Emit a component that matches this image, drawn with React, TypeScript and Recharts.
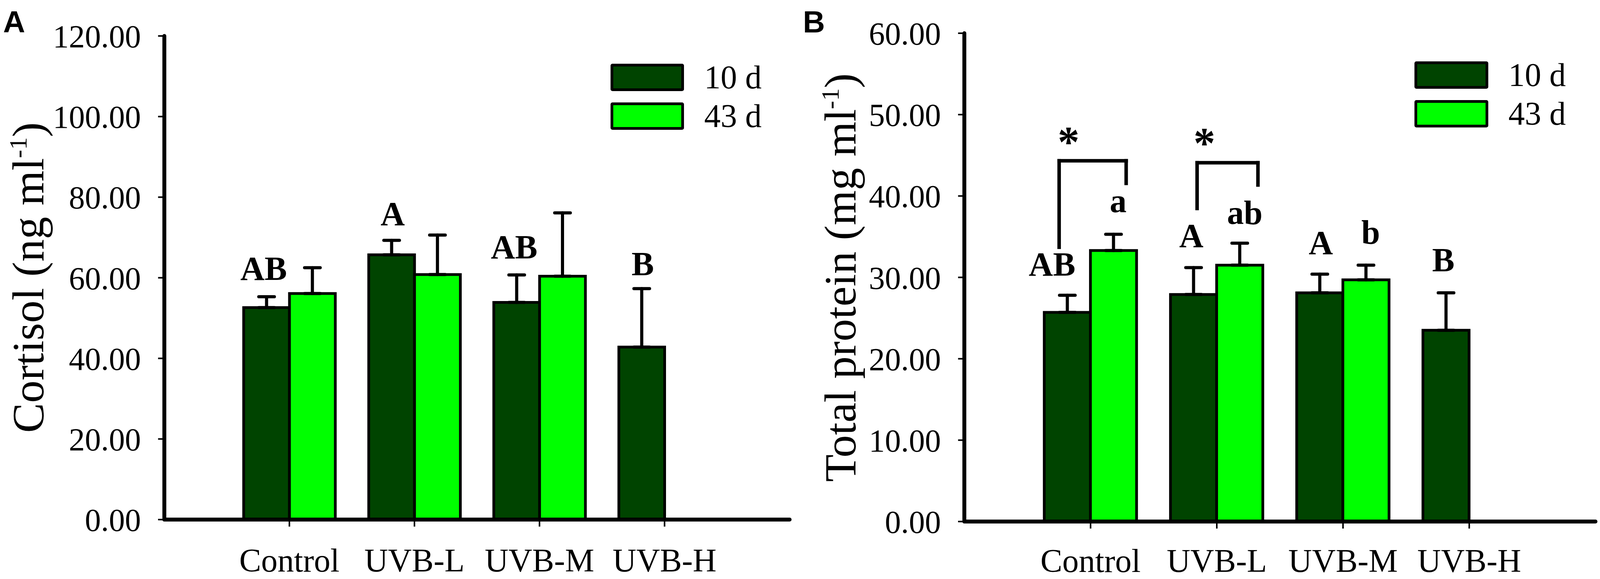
import React from 'react';
import { BarChart, Bar, XAxis, YAxis, ErrorBar, Legend, ReferenceLine, ReferenceDot } from 'recharts';

const SERIF = '"Liberation Serif", "Times New Roman", serif';
const SANS = '"Liberation Sans", Arial, sans-serif';
const DARK = '#004400';
const LIGHT = '#00ff00';

// the capture only shows ~4096px across, so horizontal layout is squeezed to fit
const PAGE_W = 4096;
const PAGE_H = 1481;
const SX = PAGE_W / 4401;
const sx = (v) => Math.round(v * SX * 10) / 10;

const groups = ['Control', 'UVB-L', 'UVB-M', 'UVB-H'];
const groupSlots = [1, 2, 3, 4];
const seriesNames = ['10 d', '43 d'];

// Panel A: cortisol (ng/ml), mean and upper error
const cortisol10 = [52.6, 65.7, 53.9, 42.8];
const cortisol10Err = [2.7, 3.6, 6.8, 14.5];
const cortisol43 = [56.1, 60.8, 60.4, null];
const cortisol43Err = [6.4, 9.8, 15.7, null];
const cortisolTicks = [0, 20, 40, 60, 80, 100, 120];

// Panel B: total protein (mg/ml)
const protein10 = [25.7, 27.9, 28.1, 23.5];
const protein10Err = [2.1, 3.3, 2.3, 4.6];
const protein43 = [33.3, 31.5, 29.7, null];
const protein43Err = [2.0, 2.7, 1.8, null];
const proteinTicks = [0, 10, 20, 30, 40, 50, 60];

// significance letters: slot on a 0..5 axis (groups sit at 1..4), baseline value
const cortisolLetters = [
  { slot: 0.794, y: 59.5, text: 'AB' },
  { slot: 1.826, y: 73.0, text: 'A' },
  { slot: 2.797, y: 64.8, text: 'AB' },
  { slot: 3.826, y: 60.6, text: 'B' },
];
const proteinLetters = [
  { slot: 0.695, y: 30.2, text: 'AB' },
  { slot: 1.219, y: 38.0, text: 'a' },
  { slot: 1.798, y: 33.7, text: 'A' },
  { slot: 2.222, y: 36.55, text: 'ab' },
  { slot: 2.824, y: 32.85, text: 'A' },
  { slot: 3.219, y: 34.15, text: 'b' },
  { slot: 3.795, y: 30.74, text: 'B' },
];
const proteinStars = [
  { slot: 0.826, y: 44.8, text: '*' },
  { slot: 1.902, y: 44.66, text: '*' },
];
const proteinBrackets = [
  { x1: 0.751, x2: 1.282, yLeft: 33.7, yTop: 44.33, yRight: 41.55 },
  { x1: 1.844, x2: 2.326, yLeft: 38.47, yTop: 44.09, yRight: 41.35 },
];

function buildRows(v10, e10, v43, e43) {
  return groups.map((g, i) => ({
    group: g,
    slot: groupSlots[i],
    d10: v10[i],
    e10: e10[i] == null ? null : [0, e10[i]],
    d43: v43[i],
    e43: e43[i] == null ? null : [0, e43[i]],
  }));
}

function AxisTitle({ x, y, text }) {
  return (
    <text x={x} y={y} transform={`rotate(-90 ${x} ${y})`} textAnchor="middle" fontFamily={SERIF} fontSize={115} fill="#000">
      <tspan>{text}</tspan>
      <tspan fontSize={64} dy={-43}>-1</tspan>
      <tspan dy={43}>)</tspan>
    </text>
  );
}

function LegendBox() {
  const colors = [DARK, LIGHT];
  return (
    <div style={{ whiteSpace: 'nowrap' }}>
      {seriesNames.map((n, i) => (
        <div key={n} style={{ display: 'flex', alignItems: 'center', height: 70, marginBottom: 29 }}>
          <div style={{ width: sx(203) - 14, height: 56, background: colors[i], border: '7px solid #000', borderRadius: 5, flex: 'none' }} />
          <span style={{ marginLeft: sx(55), fontFamily: SERIF, fontSize: 84, lineHeight: '70px' }}>{n}</span>
        </div>
      ))}
    </div>
  );
}

function Marks({ items, size }) {
  return items.map((l, i) => (
    <ReferenceDot
      key={`${l.text}${i}`}
      xAxisId="slot"
      x={l.slot}
      y={l.y}
      r={0}
      shape={(p) => (
        <text x={p.cx} y={p.cy} textAnchor="middle" fontFamily={SERIF} fontWeight={700} fontSize={size} fill="#000">
          {l.text}
        </text>
      )}
    />
  ));
}

function Panel({ left, width, top, bottom, marginRight, barSize, tickMargin, rows, ticks, yMax, title, titleX, letters, stars, brackets, tag, legendLeft, legendTop }) {
  const axisW = sx(452);
  const pad = (width - axisW - marginRight) / 10;
  return (
    <div style={{ position: 'absolute', left, top: 0, width, height: PAGE_H }}>
      <div style={{ position: 'absolute', left: 8, top: 17, fontFamily: SANS, fontWeight: 700, fontSize: 78, lineHeight: '78px' }}>{tag}</div>
      <BarChart width={width} height={PAGE_H} data={rows} margin={{ top, right: marginRight, bottom: 0, left: 0 }} barGap={0} barSize={barSize}>
        <XAxis
          dataKey="group"
          interval={0}
          height={PAGE_H - bottom}
          padding={{ left: pad, right: pad }}
          axisLine={{ stroke: '#000', strokeWidth: 10, strokeLinecap: 'round' }}
          tickLine={{ stroke: '#000', strokeWidth: 4 }}
          tickSize={18}
          tickMargin={tickMargin}
          tick={{ fontFamily: SERIF, fontSize: 84, fill: '#000' }}
        />
        <XAxis xAxisId="slot" dataKey="slot" type="number" domain={[0, 5]} allowDataOverflow hide />
        <YAxis
          width={axisW}
          domain={[0, yMax]}
          ticks={ticks}
          interval={0}
          allowDataOverflow
          tickFormatter={(v) => v.toFixed(2)}
          axisLine={{ stroke: '#000', strokeWidth: 10, strokeLinecap: 'round' }}
          tickLine={{ stroke: '#000', strokeWidth: 4 }}
          tickSize={16}
          tickMargin={44}
          tick={{ fontFamily: SERIF, fontSize: 82, fill: '#000' }}
          label={{ content: () => <AxisTitle x={titleX} y={710} text={title} /> }}
        />
        <Legend
          layout="vertical"
          align="center"
          verticalAlign="middle"
          wrapperStyle={{ left: legendLeft, top: legendTop, width: 440, height: 200 }}
          content={() => <LegendBox />}
        />
        <Bar dataKey="d10" name={seriesNames[0]} fill={DARK} stroke="#000" strokeWidth={7} isAnimationActive={false}>
          <ErrorBar dataKey="e10" width={20} stroke="#000" strokeWidth={8} strokeLinecap="round" isAnimationActive={false} />
        </Bar>
        <Bar dataKey="d43" name={seriesNames[1]} fill={LIGHT} stroke="#000" strokeWidth={7} isAnimationActive={false}>
          <ErrorBar dataKey="e43" width={20} stroke="#000" strokeWidth={8} strokeLinecap="round" isAnimationActive={false} />
        </Bar>
        {brackets.map((b, i) => [
          <ReferenceLine key={`l${i}`} xAxisId="slot" segment={[{ x: b.x1, y: b.yLeft }, { x: b.x1, y: b.yTop }]} stroke="#000" strokeWidth={9} strokeLinecap="square" />,
          <ReferenceLine key={`t${i}`} xAxisId="slot" segment={[{ x: b.x1, y: b.yTop }, { x: b.x2, y: b.yTop }]} stroke="#000" strokeWidth={9} strokeLinecap="square" />,
          <ReferenceLine key={`r${i}`} xAxisId="slot" segment={[{ x: b.x2, y: b.yTop }, { x: b.x2, y: b.yRight }]} stroke="#000" strokeWidth={9} strokeLinecap="square" />,
        ])}
        {Marks({ items: letters, size: 86 })}
        {Marks({ items: stars, size: 112 })}
      </BarChart>
    </div>
  );
}

export default function App() {
  return (
    <div style={{ position: 'absolute', left: 0, top: 0, width: PAGE_W, height: PAGE_H, background: '#fff' }}>
      <Panel
        left={0}
        width={sx(2200)}
        top={92}
        bottom={1329}
        marginRight={sx(28)}
        barSize={sx(126)}
        tickMargin={55}
        rows={buildRows(cortisol10, cortisol10Err, cortisol43, cortisol43Err)}
        ticks={cortisolTicks}
        yMax={120}
        title="Cortisol (ng ml"
        titleX={sx(115) + 4}
        letters={cortisolLetters}
        stars={[]}
        brackets={[]}
        tag="A"
        legendLeft={sx(1679)}
        legendTop={163}
      />
      <Panel
        left={sx(2200)}
        width={PAGE_W - sx(2200)}
        top={85}
        bottom={1334}
        marginRight={sx(13)}
        barSize={sx(127)}
        tickMargin={51}
        rows={buildRows(protein10, protein10Err, protein43, protein43Err)}
        ticks={proteinTicks}
        yMax={60}
        title="Total protein (mg ml"
        titleX={sx(153)}
        letters={proteinLetters}
        stars={proteinStars}
        brackets={proteinBrackets}
        tag="B"
        legendLeft={sx(1691)}
        legendTop={157}
      />
    </div>
  );
}
